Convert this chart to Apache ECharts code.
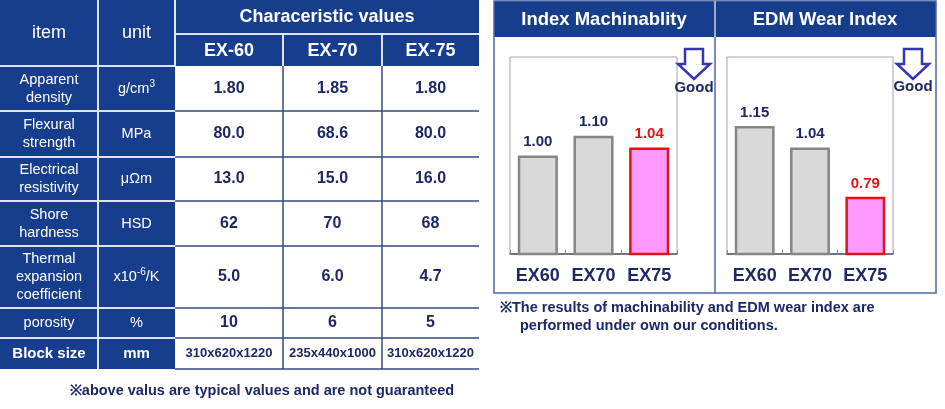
<!DOCTYPE html>
<html><head><meta charset="utf-8">
<script src="https://cdn.jsdelivr.net/npm/echarts@6/dist/echarts.min.js"></script>
<style>html,body{margin:0;padding:0;background:#fff}#c{width:945px;height:409px}</style>
</head><body><div id="c"></div>
<script>
// ---- data ----
const tableHeader = 'Characeristic values';
const headItem = 'item';
const headUnit = 'unit';
const gradeNames = ['EX-60', 'EX-70', 'EX-75'];
const itemNames = ['Apparent\ndensity', 'Flexural\nstrength', 'Electrical\nresistivity', 'Shore\nhardness', 'Thermal\nexpansion\ncoefficient', 'porosity', 'Block size'];
const unitNames = ['g/cm{sup|3}', 'MPa', 'μΩm', 'HSD', 'x10{sup|-6}/K', '%', 'mm'];
const ex60Values = ['1.80', '80.0', '13.0', '62', '5.0', '10', '310x620x1220'];
const ex70Values = ['1.85', '68.6', '15.0', '70', '6.0', '6', '235x440x1000'];
const ex75Values = ['1.80', '80.0', '16.0', '68', '4.7', '5', '310x620x1220'];
const barCategories = ['EX60', 'EX70', 'EX75'];
const machinabilityValues = [1.00, 1.10, 1.04];
const edmWearValues = [1.15, 1.04, 0.79];
const chartTitles = ['Index Machinablity', 'EDM Wear Index'];
const goodLabel = 'Good';
const tableNote = '※above valus are typical values and are not guaranteed';
const chartNote = ['※The results of machinability and EDM wear index are', 'performed under own our conditions.'];
const highlightCategory = 'EX75';

// ---- layout / style ----
const FF = '"Liberation Sans", Arial, sans-serif';
const BLUE = '#173e8c';
const NAVY = '#1d2866';
const colX = [0, 98, 175, 283, 382, 479];
const rowY = [66, 111, 157, 201, 246, 308, 338, 369];
const g = [];
function rect(x, y, w, h, fill, stroke, lw) {
  g.push({type: 'rect', shape: {x, y, width: w, height: h}, style: {fill: fill || 'none', stroke: stroke || null, lineWidth: lw || 0}, silent: true});
}
function line(x1, y1, x2, y2, stroke, lw) {
  g.push({type: 'line', shape: {x1, y1, x2, y2}, style: {stroke, lineWidth: lw}, silent: true, z: 5});
}
function text(x, y, str, size, weight, color, align, lh) {
  g.push({type: 'text', x, y, z: 10, silent: true, style: {
    text: str, fontSize: size, fontWeight: weight, fontFamily: FF, fill: color,
    align: align || 'center', verticalAlign: 'middle', lineHeight: lh || Math.round(size * 1.25),
    rich: {sup: {fontSize: 10, fontFamily: FF, fill: color, padding: [0, 0, 9, 0]}}
  }});
}

// table backgrounds
rect(0, 0, colX[5], rowY[0], BLUE);
rect(0, rowY[0], colX[2], rowY[rowY.length - 1] - rowY[0], BLUE);
// header lines
const LW = '#dfe4ee';
const DK = '#34497a';
line(colX[2], 34, colX[5], 34, LW, 2);
line(colX[1], 0, colX[1], rowY[rowY.length - 1], LW, 2);
line(colX[2], 0, colX[2], rowY[0], LW, 2);
line(colX[3], 34, colX[3], rowY[0], LW, 2);
line(colX[4], 34, colX[4], rowY[0], LW, 2);
for (let i = 0; i < rowY.length - 1; i++) line(0, rowY[i], colX[2], rowY[i], LW, 2);
for (let i = 1; i < rowY.length; i++) line(colX[2], rowY[i], colX[5], rowY[i], DK, 1.5);
line(colX[3], rowY[0], colX[3], rowY[rowY.length - 1], DK, 1.5);
line(colX[4], rowY[0], colX[4], rowY[rowY.length - 1], DK, 1.5);
// header texts
text((colX[2] + colX[5]) / 2, 17, tableHeader, 18, 'bold', '#fff');
text((colX[0] + colX[1]) / 2, 33, headItem, 18, 'normal', '#fff');
text((colX[1] + colX[2]) / 2, 33, headUnit, 18, 'normal', '#fff');
gradeNames.forEach((n, i) => text((colX[2 + i] + colX[3 + i]) / 2, 51, n, 18, 'bold', '#fff'));
// body
const cols = [ex60Values, ex70Values, ex75Values];
itemNames.forEach((name, r) => {
  const cy = (rowY[r] + rowY[r + 1]) / 2;
  const last = r === itemNames.length - 1;
  text((colX[0] + colX[1]) / 2, cy, name, last ? 15 : 14.5, last ? 'bold' : 'normal', '#fff', 'center', 18);
  text((colX[1] + colX[2]) / 2, cy, unitNames[r], last ? 15 : 14.5, last ? 'bold' : 'normal', '#fff');
  cols.forEach((vals, c) => text((colX[2 + c] + colX[3 + c]) / 2, cy, vals[r], last ? 13 : 16, 'bold', NAVY));
});
text(262, 391, tableNote, 14.5, 'bold', NAVY);

// right panels
rect(494, 1, 442, 36, BLUE);
rect(494, 1, 442, 292, null, '#4a68a8', 1.5);
line(715, 1, 715, 37, '#c9d0e0', 1.5);
line(715, 37, 715, 293, '#4a68a8', 1.5);
text(604, 20, chartTitles[0], 18.5, 'bold', '#fff');
text(825, 20, chartTitles[1], 18.5, 'bold', '#fff');
function arrow(cx) {
  g.push({type: 'polygon', z: 10, silent: true, shape: {points: [[cx - 9, 49], [cx + 9, 49], [cx + 9, 64], [cx + 16, 64], [cx, 79], [cx - 16, 64], [cx - 9, 64]]}, style: {fill: '#fff', stroke: '#3535b5', lineWidth: 2.5}});
}
arrow(694); arrow(913);
text(694, 88, goodLabel, 15, 'bold', NAVY);
text(913, 87, goodLabel, 15, 'bold', NAVY);
text(500, 308, chartNote[0], 14.5, 'bold', NAVY, 'left');
text(520, 326, chartNote[1], 14.5, 'bold', NAVY, 'left');

function barData(vals) {
  return vals.map((v, i) => {
    const hi = barCategories[i] === highlightCategory;
    return {
      value: v,
      itemStyle: hi ? {color: '#ff99ff', borderColor: '#e01414', borderWidth: 2.5} : {color: '#d9d9d9', borderColor: '#858585', borderWidth: 2.5},
      label: {color: hi ? '#e01414' : NAVY}
    };
  });
}
const grids = [{left: 510, top: 57, width: 167, height: 197}, {left: 727, top: 57, width: 166, height: 197}];
const option = {
  animation: false,
  backgroundColor: '#fff',
  grid: grids.map(gr => Object.assign({show: true, borderColor: '#a3a3b8', borderWidth: 1, containLabel: false}, gr)),
  xAxis: grids.map((gr, i) => ({
    type: 'category', gridIndex: i, data: barCategories,
    axisLine: {lineStyle: {color: '#4e5570', width: 1.5}},
    axisTick: {show: true, inside: true, length: 4, lineStyle: {color: '#888'}},
    axisLabel: {interval: 0, margin: 13, fontSize: 18, fontWeight: 'bold', fontFamily: FF, color: NAVY}
  })),
  yAxis: grids.map((gr, i) => ({type: 'value', gridIndex: i, min: 0.5, max: 1.5, show: false, splitLine: {show: false}})),
  series: [machinabilityValues, edmWearValues].map((vals, i) => ({
    type: 'bar', xAxisIndex: i, yAxisIndex: i, barWidth: '72%',
    data: barData(vals),
    label: {show: true, position: 'top', distance: 6, fontSize: 15, fontWeight: 'bold', fontFamily: FF, formatter: p => p.value.toFixed(2)}
  })),
  graphic: g
};
const chart = echarts.init(document.getElementById('c'));
chart.setOption(option);
</script></body></html>
